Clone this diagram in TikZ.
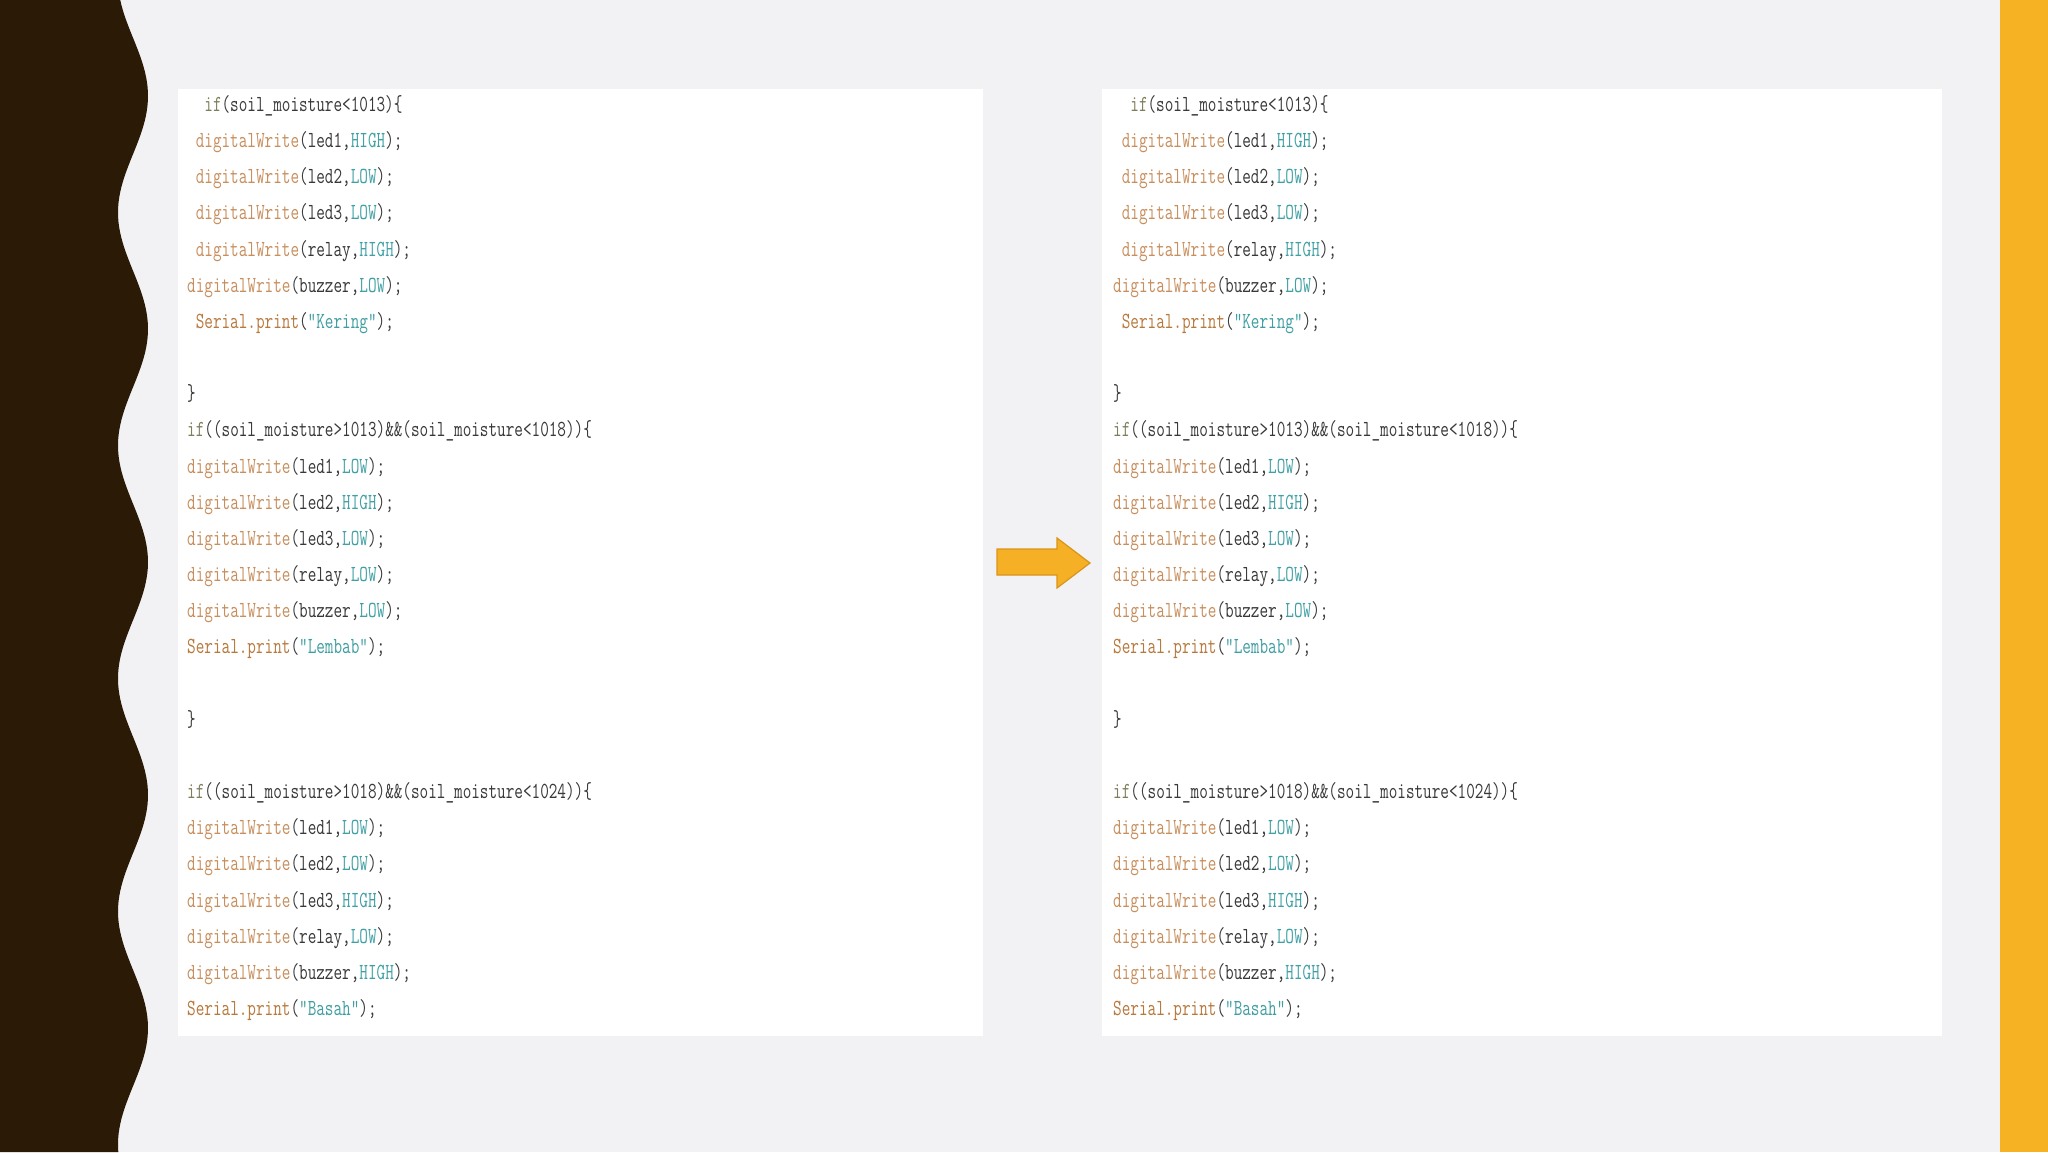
\documentclass[tikz,border=0pt]{standalone}
\usepackage{fontspec}
\newfontfamily\codefont[FakeStretch=0.727]{Latin Modern Mono}
\definecolor{bgcol}{HTML}{F2F1F4}
\definecolor{darkcol}{HTML}{2B1B06}
\definecolor{yelcol}{HTML}{F6B223}
\definecolor{codetxt}{HTML}{383838}
\definecolor{fncol}{HTML}{C88E5C}
\definecolor{sercol}{HTML}{B8783C}
\definecolor{kwcol}{HTML}{7E7E5C}
\definecolor{cstcol}{HTML}{40A0A4}
\definecolor{strcol}{HTML}{3F9EA2}
\definecolor{arrfill}{HTML}{F5B025}
\definecolor{arrdraw}{HTML}{D99518}
\newcommand\CFn[1]{\textcolor{fncol}{#1}}
\newcommand\CSer[1]{\textcolor{sercol}{#1}}
\newcommand\CKw[1]{\textcolor{kwcol}{#1}}
\newcommand\CCst[1]{\textcolor{cstcol}{#1}}
\newcommand\CStr[1]{\textcolor{strcol}{#1}}
\tikzset{
  codeline/.style={anchor=base west, inner sep=0pt, text=codetxt,
    font=\codefont\fontsize{23}{23}\selectfont},
  panelbox/.style={fill=white, draw=none}
}
\newcommand\DrawCode[2]{%
  \node[codeline] (#2l0) at (#1+204.2, 111.5) {\CKw{if}(soil\_moisture<1013)\{};
  \node[codeline] (#2l1) at (#1+195.6, 111.5+36.16*1) {\CFn{digitalWrite}(led1,\CCst{HIGH});};
  \node[codeline] (#2l2) at (#1+195.6, 111.5+36.16*2) {\CFn{digitalWrite}(led2,\CCst{LOW});};
  \node[codeline] (#2l3) at (#1+195.6, 111.5+36.16*3) {\CFn{digitalWrite}(led3,\CCst{LOW});};
  \node[codeline] (#2l4) at (#1+195.6, 111.5+36.16*4) {\CFn{digitalWrite}(relay,\CCst{HIGH});};
  \node[codeline] (#2l5) at (#1+187, 111.5+36.16*5) {\CFn{digitalWrite}(buzzer,\CCst{LOW});};
  \node[codeline] (#2l6) at (#1+195.6, 111.5+36.16*6) {\CSer{Serial.print}(\CStr{"Kering"});};
  \node[codeline] (#2l8) at (#1+187, 111.5+36.16*8) {\}};
  \node[codeline] (#2l9) at (#1+187, 111.5+36.16*9) {\CKw{if}((soil\_moisture>1013)\&\&(soil\_moisture<1018))\{};
  \node[codeline] (#2l10) at (#1+187, 111.5+36.16*10) {\CFn{digitalWrite}(led1,\CCst{LOW});};
  \node[codeline] (#2l11) at (#1+187, 111.5+36.16*11) {\CFn{digitalWrite}(led2,\CCst{HIGH});};
  \node[codeline] (#2l12) at (#1+187, 111.5+36.16*12) {\CFn{digitalWrite}(led3,\CCst{LOW});};
  \node[codeline] (#2l13) at (#1+187, 111.5+36.16*13) {\CFn{digitalWrite}(relay,\CCst{LOW});};
  \node[codeline] (#2l14) at (#1+187, 111.5+36.16*14) {\CFn{digitalWrite}(buzzer,\CCst{LOW});};
  \node[codeline] (#2l15) at (#1+187, 111.5+36.16*15) {\CSer{Serial.print}(\CStr{"Lembab"});};
  \node[codeline] (#2l17) at (#1+187, 111.5+36.16*17) {\}};
  \node[codeline] (#2l19) at (#1+187, 111.5+36.16*19) {\CKw{if}((soil\_moisture>1018)\&\&(soil\_moisture<1024))\{};
  \node[codeline] (#2l20) at (#1+187, 111.5+36.16*20) {\CFn{digitalWrite}(led1,\CCst{LOW});};
  \node[codeline] (#2l21) at (#1+187, 111.5+36.16*21) {\CFn{digitalWrite}(led2,\CCst{LOW});};
  \node[codeline] (#2l22) at (#1+187, 111.5+36.16*22) {\CFn{digitalWrite}(led3,\CCst{HIGH});};
  \node[codeline] (#2l23) at (#1+187, 111.5+36.16*23) {\CFn{digitalWrite}(relay,\CCst{LOW});};
  \node[codeline] (#2l24) at (#1+187, 111.5+36.16*24) {\CFn{digitalWrite}(buzzer,\CCst{HIGH});};
  \node[codeline] (#2l25) at (#1+187, 111.5+36.16*25) {\CSer{Serial.print}(\CStr{"Basah"});};
}
\begin{document}
\begin{tikzpicture}[x=1pt, y=-1pt]
  % background
  \fill[bgcol] (0,0) rectangle (2048,1152);
  \useasboundingbox (0,0) rectangle (2048,1152);
  % dark wavy band
  \fill[darkcol] (0,0) -- plot[domain=0:1152, samples=240, variable=\t]
      ({133+15*cos((\t-96)*1.5451)}, \t) -- (0,1152) -- cycle;
  % yellow band
  \fill[yelcol] (2000,0) rectangle (2048,1152);
  % panels
  \fill[panelbox] (178,89) rectangle (983,1036);
  \fill[panelbox] (1102,89) rectangle (1942,1036);
  % code
  \DrawCode{0}{L}
  \DrawCode{926}{R}
  % arrow
  \filldraw[fill=arrfill, draw=arrdraw, line width=1.2pt, line join=miter]
    (997,549) -- (1057,549) -- (1057,538) -- (1090,563) -- (1057,588)
    -- (1057,575) -- (997,575) -- cycle;
\end{tikzpicture}
\end{document}
